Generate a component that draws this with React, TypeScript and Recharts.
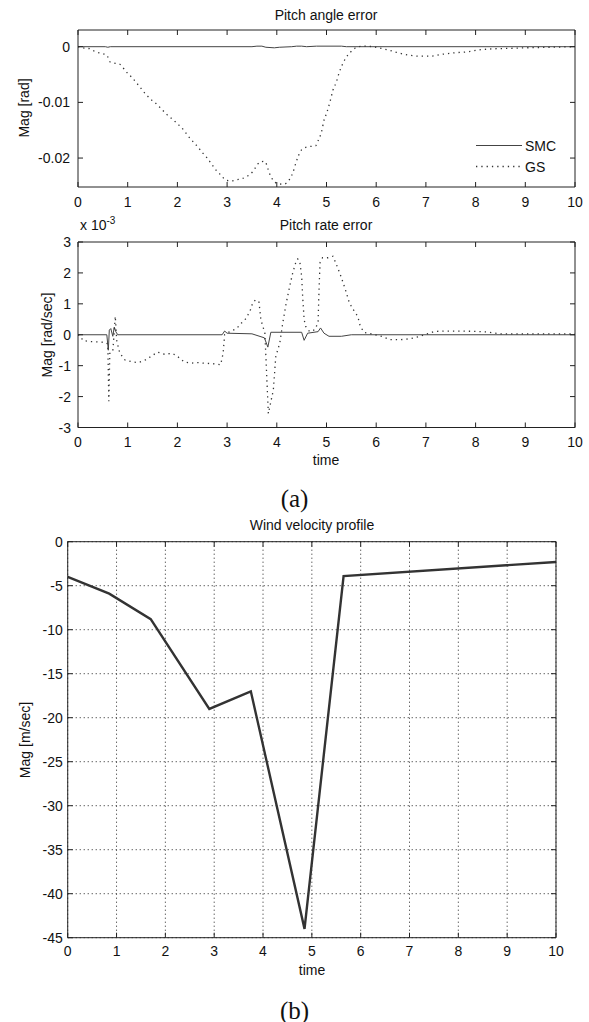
import React from "react";
import { LineChart, Line, XAxis, YAxis, CartesianGrid } from "recharts";

// shared axis ticks
const timeTicks = [0, 1, 2, 3, 4, 5, 6, 7, 8, 9, 10];
const angleTicks = [-0.02, -0.01, 0];
const rateTicks = [-3, -2, -1, 0, 1, 2, 3];
const windTicks = [-45, -40, -35, -30, -25, -20, -15, -10, -5, 0];

// Pitch angle error [rad]
const angleSmcT = [0, 0.55, 0.6, 0.65, 3.5, 3.6, 3.7, 3.78, 3.95, 4.05, 4.3, 4.4, 4.5, 4.6, 4.8, 5.3, 5.4, 10];
const angleSmcV = [0, 0, -0.0001, 0, 0, 0.0001, 0.0001, -0.0001, -0.0002, -0.0001, 0, 0.0001, 0.0001, 0, 0.0001, 0.0001, 0, 0];

const angleGsT = [
  0, 0.1, 0.25, 0.35, 0.47, 0.58, 0.64, 0.75, 0.85, 0.95, 1.07, 1.16, 1.26, 1.35, 1.46, 1.57, 1.67, 1.79, 1.91,
  2.02, 2.12, 2.22, 2.32, 2.41, 2.5, 2.59, 2.69, 2.78, 2.88, 2.98, 3.08, 3.2, 3.3, 3.4, 3.51, 3.58, 3.66, 3.76,
  3.82, 3.86, 3.92, 4.02, 4.14, 4.25, 4.32, 4.39, 4.44, 4.5, 4.62, 4.78, 4.83, 4.9, 4.95, 5.0, 5.07, 5.13, 5.2,
  5.25, 5.33, 5.43, 5.53, 5.63, 5.8, 5.93, 6.1, 6.25, 6.44, 6.65, 6.85, 7.1, 7.3, 7.58, 7.85, 8.05, 8.32, 8.66,
  9.0, 9.5, 10,
];
const angleGsV = [
  0, -0.0002, -0.0004, -0.0009, -0.0012, -0.0015, -0.0027, -0.003, -0.0032, -0.0043, -0.0054, -0.0063, -0.0074,
  -0.0084, -0.0094, -0.0102, -0.0111, -0.0122, -0.0131, -0.014, -0.0149, -0.0161, -0.0171, -0.018, -0.019,
  -0.0199, -0.0211, -0.0222, -0.0231, -0.024, -0.0241, -0.0239, -0.0237, -0.0233, -0.0225, -0.0216, -0.0207,
  -0.0206, -0.0219, -0.0229, -0.0239, -0.0246, -0.0247, -0.0239, -0.0227, -0.0207, -0.0195, -0.0185, -0.018,
  -0.0178, -0.0169, -0.0153, -0.0132, -0.012, -0.0099, -0.0078, -0.0063, -0.0048, -0.003, -0.0015, -0.0006, 0,
  0.0001, 0, -0.0003, -0.0006, -0.0011, -0.0015, -0.0017, -0.0017, -0.0014, -0.0011, -0.0009, -0.0006, -0.0004,
  -0.0003, -0.0002, -0.0001, 0,
];

// Pitch rate error [x 1e-3 rad/sec]
const rateSmcT = [0, 0.58, 0.61, 0.63, 0.66, 0.7, 0.73, 0.76, 0.8, 2.9, 2.95, 3.0, 3.5, 3.75, 3.82, 3.88, 4.5, 4.55, 4.62, 4.83, 4.88, 4.95, 5.05, 5.3, 5.5, 10];
const rateSmcV = [0, 0, -0.5, 0.15, 0.2, -0.05, 0.25, 0.1, 0, 0, 0.12, 0.05, 0.03, -0.1, -0.4, 0.08, 0.08, -0.18, 0.05, 0.1, 0.22, 0.05, -0.05, -0.05, 0, 0];

const rateGsT = [
  0, 0.05, 0.1, 0.25, 0.4, 0.55, 0.6, 0.62, 0.64, 0.7, 0.75, 0.78, 0.84, 0.94, 1.07, 1.21, 1.34, 1.47, 1.6, 1.74,
  1.9, 2.0, 2.14, 2.27, 2.4, 2.54, 2.74, 2.87, 2.92, 2.95, 3.05, 3.19, 3.29, 3.39, 3.47, 3.52, 3.57, 3.64, 3.68,
  3.72, 3.76, 3.83, 3.93, 3.98, 4.06, 4.12, 4.19, 4.26, 4.32, 4.39, 4.42, 4.46, 4.5, 4.52, 4.55, 4.58, 4.66, 4.76,
  4.83, 4.85, 4.87, 4.92, 5.03, 5.13, 5.2, 5.29, 5.38, 5.46, 5.54, 5.63, 5.68, 5.76, 5.93, 6.11, 6.28, 6.48, 6.68,
  6.88, 7.01, 7.18, 7.42, 7.69, 7.96, 8.23, 8.5, 9.0, 10,
];
const rateGsV = [
  0, -0.05, -0.19, -0.22, -0.23, -0.25, -0.3, -2.15, -0.6, -0.55, 0.6, -0.2, -0.59, -0.81, -0.87, -0.9, -0.83,
  -0.7, -0.56, -0.63, -0.6, -0.7, -0.88, -0.92, -0.9, -0.92, -0.94, -0.97, -0.6, 0, 0.1, 0.2, 0.38, 0.54, 0.81,
  1.05, 1.12, 1.08, 0.48, 0.27, 0.05, -2.55, -1.79, -0.7, -0.27, 0.38, 1.03, 1.57, 2.0, 2.38, 2.45, 2.4, 1.89,
  1.24, 0.49, 0.27, 0.1, 0.16, 0.38, 1.46, 2.33, 2.49, 2.49, 2.54, 2.27, 1.89, 1.46, 1.03, 0.81, 0.59, 0.27, 0.07,
  0.02, -0.05, -0.16, -0.16, -0.13, -0.05, 0.02, 0.11, 0.12, 0.12, 0.11, 0.09, 0.03, 0.03, 0.03,
];

// Wind velocity profile [m/sec]
const windT = [0, 0.85, 1.7, 2.9, 3.75, 4.85, 5.65, 10];
const windV = [-4, -5.9, -8.8, -19, -17, -44, -3.9, -2.3];

const zip = (t: number[], v: number[]) => t.map((x, i) => ({ t: x, v: v[i] }));

const FONT = "'Liberation Sans', Arial, Helvetica, sans-serif";
const AX = "#222";
const TXT = "#111";
const TICK = 5;
const SMC_COLOR = "#444";
const GS_COLOR = "#333";
const GS_DASH = "1.3 4";

const bottomTick = (dy: number) => (p: any) => (
  <g>
    <line x1={p.x} x2={p.x} y1={p.y} y2={p.y - TICK} stroke={AX} />
    <text x={p.x} y={p.y + dy} textAnchor="middle" fontSize={14} fontFamily={FONT} fill={TXT}>
      {p.payload.value}
    </text>
  </g>
);
const leftTick = (gap: number) => (p: any) => (
  <g>
    <line x1={p.x} x2={p.x + TICK} y1={p.y} y2={p.y} stroke={AX} />
    <text x={p.x - gap} y={p.y + 5} textAnchor="end" fontSize={14} fontFamily={FONT} fill={TXT}>
      {p.payload.value}
    </text>
  </g>
);
const topTick = (p: any) => <line x1={p.x} x2={p.x} y1={p.y} y2={p.y + TICK} stroke={AX} />;
const rightTick = (p: any) => <line x1={p.x} x2={p.x - TICK} y1={p.y} y2={p.y} stroke={AX} />;

function Frame({ yDomain, yTicks, gap, dy }: { yDomain: number[]; yTicks: number[]; gap: number; dy: number }) {
  return [
    <XAxis key="xb" xAxisId="b" type="number" dataKey="t" domain={[0, 10]} ticks={timeTicks} height={30}
      stroke={AX} tickSize={0} tickMargin={0} tickLine={false} tick={bottomTick(dy)} allowDataOverflow />,
    <XAxis key="xt" xAxisId="top" orientation="top" type="number" dataKey="t" domain={[0, 10]} ticks={timeTicks}
      height={2} stroke={AX} tickSize={0} tickMargin={0} tickLine={false} tick={topTick} allowDataOverflow />,
    <YAxis key="yl" yAxisId="l" type="number" domain={yDomain} ticks={yTicks} width={60}
      stroke={AX} tickSize={0} tickMargin={0} tickLine={false} tick={leftTick(gap)} allowDataOverflow />,
    <YAxis key="yr" yAxisId="r" orientation="right" type="number" domain={yDomain} ticks={yTicks} width={2}
      stroke={AX} tickSize={0} tickMargin={0} tickLine={false} tick={rightTick} allowDataOverflow />,
  ];
}

const label = (text: React.ReactNode, x: number, y: number, extra: React.CSSProperties = {}) => (
  <div
    style={{
      position: "absolute", left: x, top: y, transform: "translate(-50%, -50%)", whiteSpace: "nowrap",
      fontFamily: FONT, fontSize: 14, color: TXT, lineHeight: 1, ...extra,
    }}
  >
    {text}
  </div>
);

const vlabel = (text: string, x: number, y: number) =>
  label(text, x, y, { transform: "translate(-50%, -50%) rotate(-90deg)" });

// legend of the pitch angle panel, drawn over the plot area
function AngleLegend() {
  return (
    <svg width={90} height={44} style={{ position: "absolute", left: 476, top: 135, fontFamily: FONT }}>
      <line x1={0} x2={46} y1={10.5} y2={10.5} stroke={SMC_COLOR} strokeWidth={1} />
      <text x={49} y={15.5} fontSize={14} fill={TXT}>SMC</text>
      <line x1={0} x2={46} y1={31.5} y2={31.5} stroke={GS_COLOR} strokeWidth={1.3} strokeDasharray={GS_DASH} />
      <text x={49} y={36.5} fontSize={14} fill={TXT}>GS</text>
    </svg>
  );
}

export default function App() {
  return (
    <div style={{ position: "absolute", left: 0, top: 0, width: 589, height: 1022, background: "#fff" }}>
      {/* Pitch angle error */}
      <div style={{ position: "absolute", left: 0, top: 0 }}>
        <LineChart width={589} height={217} margin={{ top: 28, right: 12, bottom: 0, left: 18 }}>
          {Frame({ yDomain: [-0.0252, 0.003], yTicks: angleTicks, gap: 8, dy: 20 })}
          <Line xAxisId="b" yAxisId="l" data={zip(angleSmcT, angleSmcV)} dataKey="v" name="SMC" type="linear"
            stroke={SMC_COLOR} strokeWidth={1} dot={false} isAnimationActive={false} />
          <Line xAxisId="b" yAxisId="l" data={zip(angleGsT, angleGsV)} dataKey="v" name="GS" type="monotone"
            stroke={GS_COLOR} strokeWidth={1.3} strokeDasharray={GS_DASH} dot={false} isAnimationActive={false} />
        </LineChart>
      </div>
      <AngleLegend />
      {label("Pitch angle error", 326, 15)}
      {vlabel("Mag [rad]", 24, 108)}

      {/* Pitch rate error */}
      <div style={{ position: "absolute", left: 0, top: 210 }}>
        <LineChart width={589} height={247.5} margin={{ top: 30, right: 12, bottom: 0, left: 18 }}>
          {Frame({ yDomain: [-3, 3], yTicks: rateTicks, gap: 7, dy: 19 })}
          <Line xAxisId="b" yAxisId="l" data={zip(rateSmcT, rateSmcV)} dataKey="v" name="SMC" type="linear"
            stroke={SMC_COLOR} strokeWidth={1} dot={false} isAnimationActive={false} />
          <Line xAxisId="b" yAxisId="l" data={zip(rateGsT, rateGsV)} dataKey="v" name="GS" type="linear"
            stroke={GS_COLOR} strokeWidth={1.3} strokeDasharray={GS_DASH} dot={false} isAnimationActive={false} />
        </LineChart>
      </div>
      {label("Pitch rate error", 326, 225)}
      <div style={{ position: "absolute", left: 80, top: 216, fontFamily: FONT, fontSize: 14, color: TXT, lineHeight: 1 }}>
        x 10<sup style={{ fontSize: 10 }}>-3</sup>
      </div>
      {vlabel("Mag [rad/sec]", 47, 335)}
      {label("time", 326, 460)}
      {label("(a)", 294.5, 498, { fontFamily: "'Liberation Serif', 'DejaVu Serif', serif", fontSize: 25 })}

      {/* Wind velocity profile */}
      <div style={{ position: "absolute", left: 0, top: 520 }}>
        <LineChart width={589} height={447.7} margin={{ top: 19.7, right: 31, bottom: 0, left: 7.7 }}>
          <CartesianGrid xAxisId="b" yAxisId="l" stroke="#222" strokeDasharray="1 3" />
          {Frame({ yDomain: [-45, 0], yTicks: windTicks, gap: 5, dy: 18 })}
          <Line xAxisId="b" yAxisId="l" data={zip(windT, windV)} dataKey="v" name="wind" type="linear"
            stroke="#333" strokeWidth={2.4} dot={false} isAnimationActive={false} />
        </LineChart>
      </div>
      {label("Wind velocity profile", 312, 525)}
      {vlabel("Mag [m/sec]", 25, 740)}
      {label("time", 312, 970)}
      {label("(b)", 294.5, 1010, { fontFamily: "'Liberation Serif', 'DejaVu Serif', serif", fontSize: 25 })}
    </div>
  );
}
